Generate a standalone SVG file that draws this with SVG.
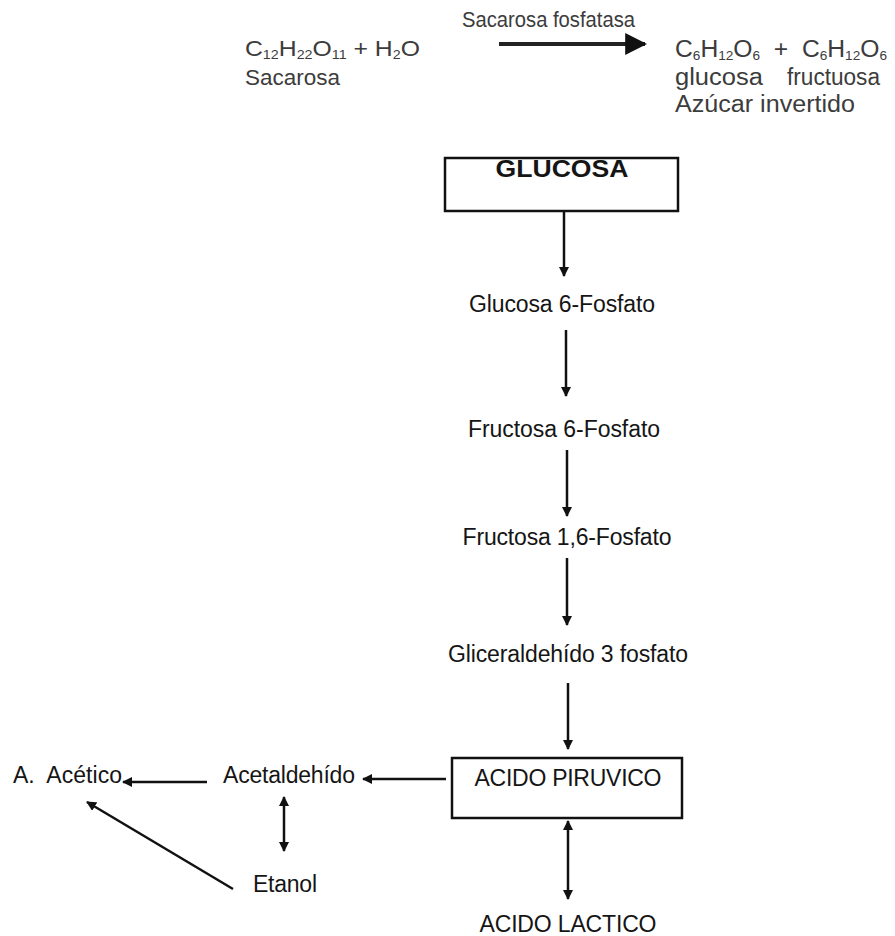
<svg xmlns="http://www.w3.org/2000/svg" width="895" height="936" viewBox="0 0 895 936">
<defs>
<style>
text{font-family:"Liberation Sans",Arial,sans-serif;fill:#151515;font-size:23px}
.top{fill:#3c3c3c;font-size:22.5px}
.rt{font-size:23.5px}
.sub{font-size:13px}
.c{text-anchor:middle}
.box{fill:#fff;stroke:#111;stroke-width:2.5}
.ln{stroke:#111;stroke-width:2.5;fill:none}
</style>
<marker id="ah" viewBox="0 0 10 10" refX="9" refY="5" markerWidth="4" markerHeight="4" orient="auto-start-reverse" markerUnits="strokeWidth">
<path d="M0,0 L10,5 L0,10 z" fill="#111"/>
</marker>
<marker id="bh" viewBox="0 0 10 10" refX="9" refY="5" markerWidth="5.5" markerHeight="5.5" orient="auto" markerUnits="strokeWidth">
<path d="M0,0 L10,5 L0,10 z" fill="#111"/>
</marker>
</defs>

<g id="reaction">
<text class="top" x="245" y="56" textLength="175" lengthAdjust="spacingAndGlyphs">C<tspan class="sub" dy="3">12</tspan><tspan dy="-3">H</tspan><tspan class="sub" dy="3">22</tspan><tspan dy="-3">O</tspan><tspan class="sub" dy="3">11</tspan><tspan dy="-3"> + H</tspan><tspan class="sub" dy="3">2</tspan><tspan dy="-3">O</tspan></text>
<text class="top" x="245" y="85" textLength="95" lengthAdjust="spacingAndGlyphs">Sacarosa</text>
<text class="top" x="462" y="27" font-size="19.5" textLength="173" lengthAdjust="spacingAndGlyphs">Sacarosa fosfatasa</text>
<text class="top rt" x="675" y="57" xml:space="preserve" textLength="212" lengthAdjust="spacingAndGlyphs">C<tspan class="sub" dy="3">6</tspan><tspan dy="-3">H</tspan><tspan class="sub" dy="3">12</tspan><tspan dy="-3">O</tspan><tspan class="sub" dy="3">6</tspan><tspan dy="-3">  +  C</tspan><tspan class="sub" dy="3">6</tspan><tspan dy="-3">H</tspan><tspan class="sub" dy="3">12</tspan><tspan dy="-3">O</tspan><tspan class="sub" dy="3">6</tspan></text>
<text class="top rt" x="675" y="85" textLength="88" lengthAdjust="spacingAndGlyphs">glucosa</text>
<text class="top rt" x="787" y="85" textLength="93" lengthAdjust="spacingAndGlyphs">fructuosa</text>
<text class="top rt" x="675" y="112" textLength="180" lengthAdjust="spacingAndGlyphs">Azúcar invertido</text>
</g>

<g id="glucosa">
<rect class="box" x="445" y="158" width="233" height="53"/>
<text class="c" x="562" y="177" font-weight="bold" font-size="24" textLength="133" lengthAdjust="spacingAndGlyphs">GLUCOSA</text>
</g>
<g id="g6p"><text class="c" x="562" y="312" textLength="186" lengthAdjust="spacing">Glucosa 6-Fosfato</text></g>
<g id="f6p"><text class="c" x="564" y="437" textLength="192" lengthAdjust="spacing">Fructosa 6-Fosfato</text></g>
<g id="f16p"><text class="c" x="567" y="545" textLength="209" lengthAdjust="spacing">Fructosa 1,6-Fosfato</text></g>
<g id="g3p"><text class="c" x="568" y="662" textLength="240" lengthAdjust="spacing">Gliceraldehído 3 fosfato</text></g>
<g id="piruvico">
<rect class="box" x="452" y="758" width="230" height="60"/>
<text class="c" x="568" y="786" font-size="22.5" textLength="187" lengthAdjust="spacing">ACIDO PIRUVICO</text>
</g>
<g id="lactico"><text class="c" x="568" y="932" font-size="22.5" textLength="177" lengthAdjust="spacing">ACIDO LACTICO</text></g>
<g id="acetaldehido"><text x="223" y="783" textLength="132" lengthAdjust="spacing">Acetaldehído</text></g>
<g id="acetico"><text x="13" y="783" xml:space="preserve" textLength="109" lengthAdjust="spacing">A.  Acético</text></g>
<g id="etanol"><text x="253" y="892" textLength="64" lengthAdjust="spacing">Etanol</text></g>

<g id="connectors">
<line x1="499" y1="44" x2="645" y2="44" stroke="#222" stroke-width="4" marker-end="url(#bh)"/>
<line class="ln" x1="564" y1="211" x2="564" y2="276" marker-end="url(#ah)"/>
<line class="ln" x1="566" y1="330" x2="566" y2="396" marker-end="url(#ah)"/>
<line class="ln" x1="567" y1="450" x2="567" y2="516" marker-end="url(#ah)"/>
<line class="ln" x1="567" y1="558" x2="567" y2="625" marker-end="url(#ah)"/>
<line class="ln" x1="568" y1="683" x2="568" y2="749" marker-end="url(#ah)"/>
<line class="ln" x1="568" y1="821" x2="568" y2="899" marker-start="url(#ah)" marker-end="url(#ah)"/>
<line class="ln" x1="446" y1="779" x2="363" y2="779" marker-end="url(#ah)"/>
<line class="ln" x1="207" y1="782" x2="123" y2="782" marker-end="url(#ah)"/>
<line class="ln" x1="284" y1="797" x2="284" y2="851" marker-start="url(#ah)" marker-end="url(#ah)"/>
<line class="ln" x1="233" y1="889" x2="87" y2="802" marker-end="url(#ah)"/>
</g>
</svg>
